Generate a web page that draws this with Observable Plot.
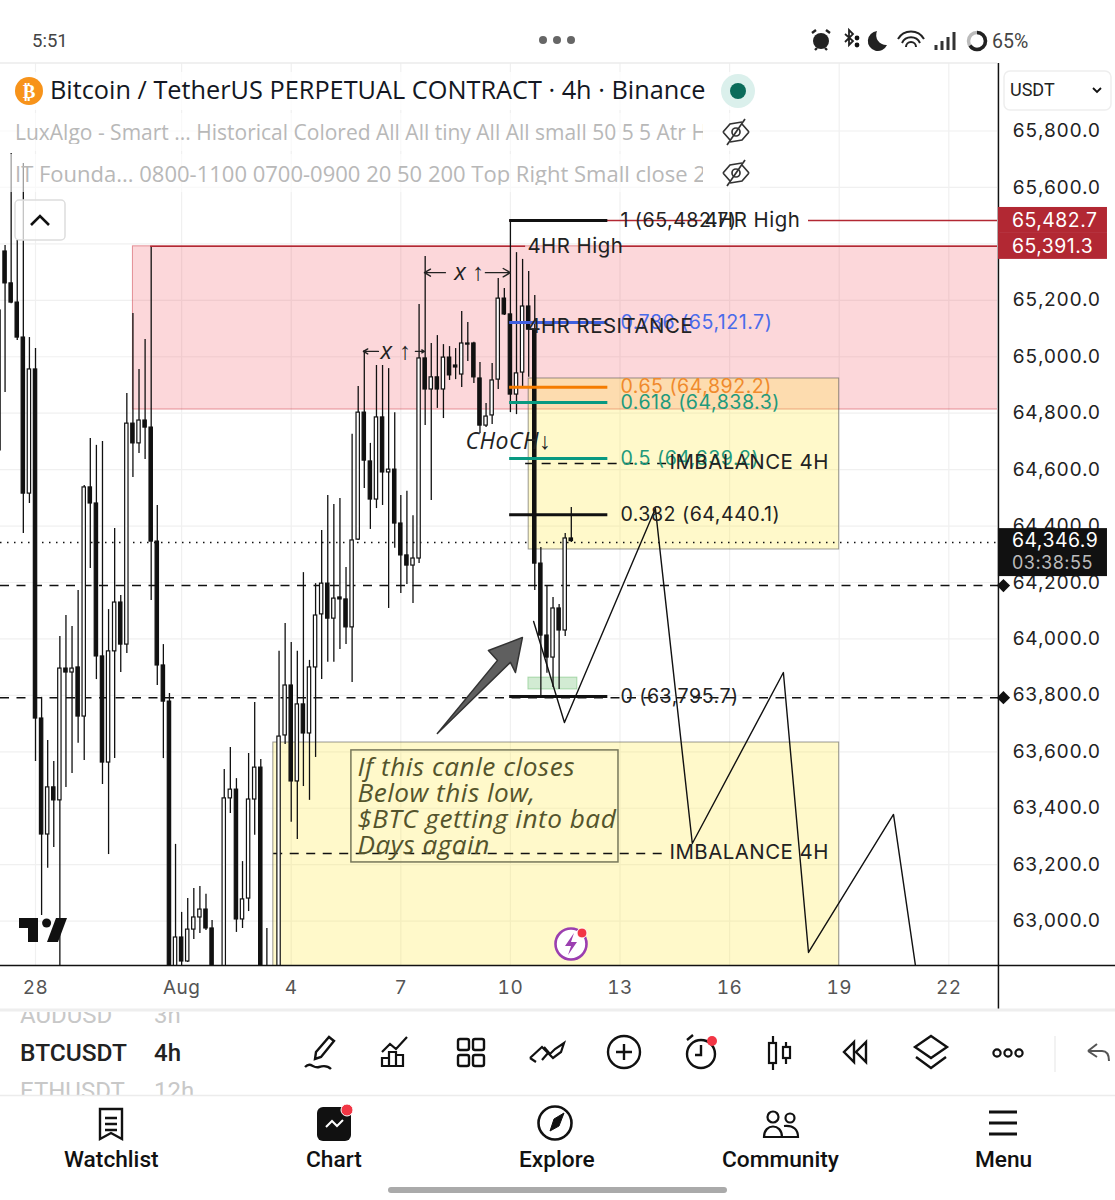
<!DOCTYPE html>
<html><head><meta charset="utf-8">
<script src="https://cdn.jsdelivr.net/npm/d3@7"></script>
<script src="https://cdn.jsdelivr.net/npm/@observablehq/plot@0.6"></script>
<style>
html,body{margin:0;background:#fff}
#page{position:relative;width:1115px;height:1200px;overflow:hidden;font-family:Inter,sans-serif;color:#111}
#chart{position:absolute;left:0;top:63px}
#chart svg{display:block}
.t{position:absolute;white-space:nowrap;line-height:1}
.ic{position:absolute;left:0;top:0;pointer-events:none}
.row{position:absolute;left:0;width:760px;height:38px;background:rgba(255,255,255,.6)}
</style></head><body>
<div id="page">
<div id="chart"></div>
<div class="row" style="top:113px"></div><div class="row" style="top:154px"></div>
<div class="row" style="top:72px;height:38px;background:rgba(255,255,255,.8)"></div>
<div class="t" style="left:32px;top:32px;font-size:18.5px;color:#444;font-family:Roboto">5:51</div>
<div class="t" style="left:992px;top:32px;font-size:19.5px;color:#444;font-family:Roboto">65%</div>
<div class="t" style="left:50px;top:77px;font-size:25.3px;color:#131722;font-family:'Open Sans'">Bitcoin / TetherUS PERPETUAL CONTRACT · 4h · Binance</div>
<div class="t" style="left:15px;top:120px;width:688px;overflow:hidden;font-size:21px;line-height:24px;color:#b8b8b8;font-family:'Open Sans'">LuxAlgo - Smart ... Historical Colored All All tiny All All small 50 5 5 Atr H</div>
<div class="t" style="left:15px;top:161px;width:688px;overflow:hidden;font-size:22px;line-height:24px;color:#b8b8b8;font-family:'Open Sans'">IT Founda... 0800-1100 0700-0900 20 50 200 Top Right Small close 2</div>
<div class="t" style="left:1010px;top:81px;font-size:18px;color:#222;font-family:Roboto">USDT</div>
<div class="t" style="left:20px;top:1041px;width:107px;overflow:hidden;font-size:24.5px;font-weight:500;color:#222;font-family:Roboto">BTCUSDT</div>
<div class="t" style="left:154px;top:1041px;font-size:24px;font-weight:500;color:#222;font-family:Roboto">4h</div>
<div class="t" style="left:20px;top:1003px;font-size:24px;color:#c8c8c8;height:24px;font-family:Roboto;clip-path:inset(9px 0 0 0)">AUDUSD</div>
<div class="t" style="left:154px;top:1003px;font-size:24px;color:#c8c8c8;height:24px;font-family:Roboto;clip-path:inset(9px 0 0 0)">3h</div>
<div class="t" style="left:20px;top:1079px;width:107px;overflow:hidden;font-size:24px;color:#c8c8c8;height:16px;font-family:Roboto">ETHUSDT</div>
<div class="t" style="left:154px;top:1079px;font-size:24px;color:#c8c8c8;height:16px;overflow:hidden;font-family:Roboto">12h</div>
<div class="t" style="left:64px;top:1149px;font-size:22.7px;font-weight:500;font-family:Roboto">Watchlist</div>
<div class="t" style="left:306px;top:1149px;font-size:22.7px;font-weight:500;font-family:Roboto">Chart</div>
<div class="t" style="left:519px;top:1149px;font-size:22.7px;font-weight:500;font-family:Roboto">Explore</div>
<div class="t" style="left:722px;top:1149px;font-size:22.7px;font-weight:500;font-family:Roboto">Community</div>
<div class="t" style="left:975px;top:1149px;font-size:22.7px;font-weight:500;font-family:Roboto">Menu</div>
<svg class="ic" width="1115" height="1200" fill="none" stroke="#111" stroke-width="2.4">
 <path d="M0 63H997M0 1095.5H1115" stroke="#ececec" stroke-width="1.5"/>
 <path d="M0 1010H1115" stroke="#eee" stroke-width="3"/>
 <path d="M1055 1036V1072" stroke="#eee" stroke-width="1.5"/>
 <rect x="388" y="1187" width="339" height="6" rx="3" fill="#aaa" stroke="none"/>
 <g fill="#666" stroke="none"><circle cx="543" cy="40" r="4"/><circle cx="557" cy="40" r="4"/><circle cx="571" cy="40" r="4"/></g>
 <circle cx="821" cy="41" r="8" fill="#222" stroke-width="0"/><path d="M812 33l4-3M830 33l-4-3M815 50l2-2M827 50l-2-2" stroke="#222"/>
 <path d="M845 34l8 7-4 4V30l4 4-8 8" stroke="#222" stroke-width="1.8"/><circle cx="857" cy="38" r="1.2" fill="#222"/><circle cx="857" cy="45" r="1.2" fill="#222"/>
 <path d="M877 31a10 10 0 1 0 10 14a10 10 0 0 1-10-14z" fill="#222" stroke="none"/>
 <path d="M898 39a15 15 0 0 1 26 0M902 43a10 10 0 0 1 18 0M906 47a5 5 0 0 1 10 0" stroke="#222" stroke-width="2"/>
 <path d="M936 50v-5M942 50v-9M948 50v-13M954 50V32" stroke="#333" stroke-width="3"/>
 <circle cx="977" cy="41" r="8.5" stroke="#bbb" stroke-width="3.5"/><path d="M977 32.5a8.5 8.5 0 0 1 0 17a8.5 8.5 0 0 1-7-4" stroke="#222" stroke-width="3.5"/>
 <circle cx="29" cy="91" r="14" fill="#f7931a" stroke="none"/>
 <text x="29" y="98" text-anchor="middle" font-size="19" font-weight="700" fill="#fff" stroke="none" font-family="Open Sans">₿</text>
 <circle cx="738" cy="91" r="17" fill="#dbf0ec" stroke="none"/><circle cx="738" cy="91" r="8" fill="#0b6b5a" stroke="none"/>
 <g stroke="#333" stroke-width="1.7"><path d="M723 132l7-8 12-2M749 132l-7 8-12 2M723 132l7 8M749 132l-7-8"/><ellipse cx="736" cy="132" rx="4" ry="4"/><path d="M727 145l18-26"/></g>
 <g stroke="#333" stroke-width="1.7"><path d="M723 173l7-8 12-2M749 173l-7 8-12 2M723 173l7 8M749 173l-7-8"/><ellipse cx="736" cy="173" rx="4" ry="4"/><path d="M727 186l18-26"/></g>
 <rect x="1004" y="71" width="107" height="39" rx="6" stroke="#eee" stroke-width="1.5" fill="none"/>
 <path d="M1093 88l4 4 4-4" stroke-width="1.8"/>
 <rect x="15" y="200" width="50" height="40" rx="4" stroke="#ddd" stroke-width="1.5" fill="rgba(255,255,255,.75)"/>
 <path d="M31 225l9-9 9 9" stroke-width="2.6"/>
 <g fill="#111" stroke="none"><path d="M19 918H38V942H28V928H19z"/><circle cx="46.6" cy="923" r="4.5"/><path d="M56 918H67L58 942H47z"/></g>
 <circle cx="571" cy="944" r="15.5" stroke="#9b3fb0" stroke-width="2.6" fill="#fff"/>
 <path d="M574 933l-9 13h6l-3 9 9-13h-6z" fill="#9b3fb0" stroke="none"/><circle cx="582" cy="933" r="5" fill="#f23645" stroke="#fff" stroke-width="1"/>
 <path d="M316 1052l13-15 5 4-13 16-6 2zM305 1067c6-6 8 2 14 0s10 0 12 2"/>
 <path d="M382 1066v-8h7v8zM389 1066v-14h7v14zM396 1066v-11h7v11zM403 1066H382M382 1052l8-8 6 5 11-12" stroke-width="2.2"/>
 <g stroke-width="2.4"><rect x="458" y="1039" width="11" height="11" rx="2"/><rect x="473" y="1039" width="11" height="11" rx="2"/><rect x="458" y="1055" width="11" height="11" rx="2"/><rect x="473" y="1055" width="11" height="11" rx="2"/></g>
 <path d="M530 1058l12-11 6 6-6 7M536 1062l-6-4M544 1047l6 7 5-5 9-6-3 9-8 6-5-5" stroke-width="2.2"/>
 <circle cx="624" cy="1052" r="16" stroke-width="2.4"/><path d="M624 1044v16M616 1052h16"/>
 <circle cx="701" cy="1054" r="14"/><path d="M701 1045v10h-6M687 1040l6-5"/><circle cx="712" cy="1041" r="5" fill="#f23645" stroke="none"/>
 <path d="M773 1036v34" stroke-width="2.2"/><rect x="769" y="1043" width="7" height="20" stroke-width="2.2" fill="#fff"/><path d="M786 1042v22" stroke-width="2.2"/><rect x="783" y="1047" width="7" height="11" stroke-width="2.2" fill="#fff"/>
 <path d="M854 1042l-10 10 10 10zM866 1042l-10 10 10 10z" stroke-width="2.4"/>
 <path d="M931 1036l16 11-16 11-16-11zM916 1057l15 11 15-11" stroke-width="2.4"/>
 <g stroke-width="2.2"><circle cx="997" cy="1053" r="3.6"/><circle cx="1008" cy="1053" r="3.6"/><circle cx="1019" cy="1053" r="3.6"/></g>
 <path d="M1088 1051l9-7M1088 1051l9 6M1088 1051h14c5 0 7 4 7 10" stroke="#555" stroke-width="2"/>
 <path d="M100 1109h22v30l-11-6-11 6zM105 1118h12M105 1124h12M105 1130h12" stroke-width="2.4"/>
 <rect x="317" y="1107" width="34" height="34" rx="6" fill="#111" stroke="none"/>
 <path d="M326 1127l6-6 5 5 6-6" stroke="#fff" stroke-width="2"/><circle cx="347" cy="1110" r="6" fill="#f23645" stroke="#fff" stroke-width="1"/>
 <circle cx="555" cy="1123" r="16.5" stroke-width="2.6"/><path d="M564 1113l-5 13-9 5 4-12z" fill="#111" stroke-width="1"/>
 <circle cx="773" cy="1117" r="5.5" stroke-width="2.2"/><circle cx="790" cy="1118" r="4.5" stroke-width="2.2"/>
 <path d="M764 1137c0-14 18-14 18 0zM784 1126c10-1 14 4 14 11h-16" stroke-width="2.2"/>
 <path d="M989 1112h28M989 1123h28M989 1134h28" stroke-width="3"/>
</svg>
</div>
<script>
// Candles, 4h apart, first one at candleStart
const candleStart = "2024-07-27T00:00Z";
const opens = [
65164,65373,65260,65192,65068,64515,64955,63718,63307,63474,
63428,63895,63881,63899,63725,64537,64480,63938,63562,63956,
64129,63980,64763,64693,64774,64749,64345,63906,63778,62772,
62942,62857,62970,63013,63041,62974,62754,62772,63435,63466,
63006,63080,63431,63544,62772,62754,62772,63658,63835,63495,
63768,63665,63899,64087,64196,64072,64147,64140,64041,64352,
64802,64629,64494,64785,64590,64600,64409,64296,64260,64285,
64994,64884,64927,64884,64997,64969,64937,65043,65047,64923,
64756,64792,64919,65206,65150,64866,64944,65178,65096,64267,
64012,63934,64108,64030,64356];
const closes = [
64668,65260,65192,65068,64515,64955,63718,63307,63474,63428,
63895,63881,63895,63725,64537,64480,63938,63562,63956,64129,
63980,64763,64693,64774,64749,64345,63906,63778,62790,62942,
62857,62970,63013,63041,62974,62772,62807,63435,63466,63006,
63077,63431,63544,62790,62807,62807,63654,63835,63495,63768,
63665,63899,64083,64196,64072,64143,64140,64041,64349,64802,
64632,64494,64785,64590,64600,64409,64296,64260,64285,64994,
64884,64927,64884,64997,64934,64962,65047,65047,64927,64756,
64788,64916,65206,65150,64866,64941,65178,65096,64267,64012,
63934,64108,64030,64356,64346.9];
const highs = [
65199,65394,65720,65412,65685,65068,65029,63793,63640,63566,
64009,64083,64044,64172,64544,64710,64686,64700,64104,64391,
64154,64870,65153,64955,65061,65387,64473,63980,63807,63272,
63031,63080,63116,63123,63095,63002,62825,63537,63615,63505,
63211,63594,63775,63573,62974,62825,63956,64055,63987,63956,
64235,63924,64196,64384,64508,64476,64498,64253,64725,64895,
65022,64693,64969,64969,64958,64802,64508,64523,64437,65185,
65355,65047,65075,65043,65036,65029,65160,65121,65051,64980,
64834,64976,65277,65242,65483,65369,65345,65302,65217,64324,
64186,64147,64122,64374,64466];
const lows = [
64661,64873,65188,65058,64374,64480,63566,63020,63187,63261,
62807,63474,63523,63630,63569,64250,63856,63484,63236,63576,
63881,63948,64572,64657,64636,64136,63835,63576,62754,62737,
62832,62853,62935,62956,62967,62737,62719,62737,63381,62960,
62974,63034,63304,62754,62737,62719,62737,63626,63350,63289,
63477,63428,63580,63856,63917,63917,63963,63980,63846,64349,
64533,64388,64462,64473,64108,64321,64161,64193,64126,64267,
64756,64491,64817,64781,64916,64919,64891,64983,64905,64728,
64749,64760,64884,65146,64802,64795,64891,64927,64172,63789,
63878,63828,63821,64009,64342];

// Axes
const priceTicks = [65800,65600,65400,65200,65000,64800,64600,64400,64200,64000,63800,63600,63400,63200,63000];
const dateTicks = ["2024-07-28","2024-08-01","2024-08-04","2024-08-07","2024-08-10","2024-08-13","2024-08-16","2024-08-19","2024-08-22"];
const dateLabels = ["28","Aug","4","7","10","13","16","19","22"];
const xDomain = ["2024-07-27T01:00Z","2024-08-23T08:00Z"];
const yDomain = [62842.8,66039.2];

// Levels
const lastPrice = 64342;
const high1 = 65482.7, high2 = 65391.3;
const fibLevels = [65482.7,65121.7,64892.2,64838.3,64639.2,64440.1,63795.7];
const fibColors = ["#111","#3f5fe0","#f57c00","#089981","#089981","#111","#111"];
const fibX = ["2024-08-09T23:30Z","2024-08-12T16:00Z"];
const labels = ["1 (65,482.7)","0.786 (65,121.7)","0.65 (64,892.2)","0.618 (64,838.3)","0.5 (64,639.2)","0.382 (64,440.1)","0 (63,795.7)",
  "4HR High","4HR High","4HR RESITANCE","IMBALANCE 4H","IMBALANCE 4H"];
const labelColors = ["#222","#4a6bea","#f08a2c","#1f9a7c","#1f9a7c","#222","#222","#222","#222","#222","#222","#222"];
const labelDates = ["2024-08-13T00:15Z","2024-08-13T00:15Z","2024-08-13T00:15Z","2024-08-13T00:15Z","2024-08-13T00:15Z","2024-08-13T00:15Z","2024-08-13T00:15Z",
  "2024-08-15T07:26Z","2024-08-10T11:10Z","2024-08-10T11:10Z","2024-08-14T08:28Z","2024-08-14T08:28Z"];
const labelPrices = [65482.7,65121.7,64892.2,64838.3,64639.2,64440.1,63795.7,65482.7,65391.3,65107,64625,63243];

// Projection zigzag and big arrow
const zigDates = ["2024-08-10T15:15Z","2024-08-11T11:30Z","2024-08-13T23:15Z","2024-08-14T23:30Z","2024-08-17T11:20Z","2024-08-18T03:50Z","2024-08-20T11:40Z","2024-08-21T04:00Z"];
const zigPrices = [64062,63704,64462,63275,63881,62889,63378,62772];
const arrowDates = ["2024-08-08T00:00Z","2024-08-09T15:30Z","2024-08-09T09:33Z","2024-08-10T07:53Z","2024-08-10T03:17Z","2024-08-10T00:00Z","2024-08-08T00:00Z"];
const arrowPrices = [63665,63924,63959,64005,63881,63917,63665];

const D = s => new Date(s);
const candles = opens.map((o,i)=>({t:d3.utcHour.offset(D(candleStart),4*i),o,c:closes[i],h:highs[i],l:lows[i]}));
const W = 66; // half body, minutes
const fibs = fibLevels.map((y,i)=>({y,color:fibColors[i]}));
const texts = labels.map((s,i)=>({s,color:labelColors[i],x:D(labelDates[i]),y:labelPrices[i],fib:i<7}));
const zig = zigDates.map((d,i)=>({x:D(d),y:zigPrices[i]}));
const arrowPoly = arrowDates.map((d,i)=>({x:D(d),y:arrowPrices[i]}));
const axisEnd = "2024-08-23T08:37Z", tagEnd = "2024-08-26T08:15Z";
const tags = [
 {y1:65437,y2:65529,fill:"#b22833",s:"65,482.7",y:65482.7},
 {y1:65345,y2:65437,fill:"#b22833",s:"65,391.3",y:65391.3}];
const hs = [
 {y:high1,x1:"2024-08-09T23:30Z",x2:"2024-08-15T06:00Z"},
 {y:high1,x1:"2024-08-18T03:50Z",x2:axisEnd},
 {y:high2,x1:"2024-07-31T03:36Z",x2:"2024-08-10T10:00Z"},
 {y:high2,x1:"2024-08-13T00:00Z",x2:axisEnd}];
const dashes = [
 {y:64189,x1:xDomain[0],x2:axisEnd},
 {y:63792,x1:xDomain[0],x2:axisEnd},
 {y:64622,x1:"2024-08-10T10:00Z",x2:"2024-08-14T07:00Z"},
 {y:63240,x1:"2024-08-03T12:30Z",x2:"2024-08-14T07:00Z"}];
const zones = [
 {x1:"2024-07-30T16:00Z",x2:axisEnd,y1:64813,y2:65391.3,fill:"#f23645",fo:.2,stroke:"#d0434f",so:.55},
 {x1:"2024-08-10T12:00Z",x2:"2024-08-19T00:00Z",y1:64317,y2:64923,fill:"#ffe93b",fo:.27,stroke:"#555",so:.6},
 {x1:"2024-08-03T12:15Z",x2:"2024-08-19T00:00Z",y1:62700,y2:63633,fill:"#ffe93b",fo:.27,stroke:"#555",so:.6},
 {x1:"2024-08-10T11:50Z",x2:"2024-08-11T20:00Z",y1:63821,y2:63863,fill:"#4caf50",fo:.25,stroke:"#4caf50",so:.4}];
const dim = {x1:"2024-08-05T15:32Z",x2:"2024-08-12T23:00Z",y1:63208,y2:63605};
const arrows = [
 {x1:"2024-08-08T05:17Z",x2:"2024-08-07T15:30Z",y:65298},{x1:"2024-08-09T07:34Z",x2:"2024-08-10T00:00Z",y:65298},
 {x1:"2024-08-06T09:17Z",x2:"2024-08-05T23:25Z",y:65019},{x1:"2024-08-07T09:36Z",x2:"2024-08-07T15:30Z",y:65019}];
const ital = [
 {s:"x",x:"2024-08-08T15:08Z",y:65298},{s:"↑",x:"2024-08-09T02:59Z",y:65298},
 {s:"x",x:"2024-08-06T14:32Z",y:65019},{s:"↑",x:"2024-08-07T03:02Z",y:65019}];

const xv = f => d => D(f(d));
const plot = Plot.plot({
  width:1115, height:947, marginLeft:0, marginRight:118, marginTop:0, marginBottom:45,
  style:{fontFamily:"Inter, sans-serif",fontSize:"19px",background:"transparent",color:"#222",letterSpacing:".5px"},
  x:{type:"utc",domain:xDomain.map(D)},
  y:{domain:yDomain},
  marks:[
    Plot.ruleY(priceTicks,{stroke:"#f0f0f0",strokeWidth:1.2}),
    Plot.ruleX(dateTicks.map(D),{stroke:"#f0f0f0",strokeWidth:1.2}),
    Plot.rect(zones,{x1:xv(d=>d.x1),x2:xv(d=>d.x2),y1:"y1",y2:"y2",fill:"fill",fillOpacity:"fo",stroke:"stroke",strokeOpacity:"so",clip:true}),
    Plot.ruleY(hs,{y:"y",x1:xv(d=>d.x1),x2:xv(d=>d.x2),stroke:"#b22833",strokeWidth:1.5,clip:true}),
    Plot.ruleY([lastPrice],{x1:D(xDomain[0]),x2:D(axisEnd),stroke:"#111",strokeDasharray:"1.5 5.5",strokeWidth:1.5}),
    Plot.ruleY(dashes,{y:"y",x1:xv(d=>d.x1),x2:xv(d=>d.x2),stroke:"#111",strokeDasharray:"9 7.5",strokeWidth:1.5}),
    Plot.ruleX(candles,{x:"t",y1:"l",y2:"h",stroke:"#111",strokeWidth:1.3,clip:true}),
    Plot.rect(candles,{x1:d=>d3.utcMinute.offset(d.t,-W),x2:d=>d3.utcMinute.offset(d.t,W),y1:"o",y2:"c",
      fill:d=>d.c>=d.o?"#fff":"#111",stroke:"#111",strokeWidth:1.2,clip:true}),
    Plot.ruleY(fibs,{y:"y",x1:D(fibX[0]),x2:D(fibX[1]),stroke:"color",strokeWidth:3}),
    Plot.line(arrowPoly,{x:"x",y:"y",fill:"#5f5f5f",stroke:"#333",strokeWidth:1.5,curve:"linear"}),
    Plot.line(zig,{x:"x",y:"y",stroke:"#111",strokeWidth:1.4,clip:true}),
    Plot.rect([dim],{x1:xv(d=>d.x1),x2:xv(d=>d.x2),y1:"y1",y2:"y2",fill:"none",stroke:"#77775a",strokeWidth:1.5}),
    Plot.text(["If this canle closes\nBelow this low,\n$BTC getting into bad\nDays again"],{x:D("2024-08-05T19:30Z"),y:63406,textAnchor:"start",
      fontSize:26.2,fontStyle:"italic",fontFamily:"Open Sans",fill:"#54542c",lineHeight:1,letterSpacing:"0px"}),
    Plot.text(["CHoCH↓"],{x:D("2024-08-08T18:26Z"),y:64700,textAnchor:"start",fontSize:23,fontStyle:"italic",fontFamily:"Open Sans",fill:"#222"}),
    Plot.text(texts.filter(d=>d.fib),{x:"x",y:"y",text:"s",fill:"color",textAnchor:"start",fontSize:19.6}),
    Plot.text(texts.filter(d=>!d.fib),{x:"x",y:"y",text:"s",fill:"color",textAnchor:"start",fontSize:20.4}),
    Plot.arrow(arrows,{x1:xv(d=>d.x1),x2:xv(d=>d.x2),y1:"y",y2:"y",stroke:"#222",strokeWidth:1.4,headLength:24,bend:0}),
    Plot.text(ital,{x:xv(d=>d.x),y:"y",text:"s",fontSize:24,fontStyle:"italic",fontFamily:"Open Sans",fill:"#222"}),
    Plot.axisY({anchor:"right",ticks:priceTicks,tickSize:0,tickPadding:15,tickFormat:d3.format(",.1f"),label:null,fill:"#222",fontSize:19}),
    Plot.axisX({ticks:dateTicks.map(D),tickSize:0,tickPadding:15,tickFormat:d=>dateLabels[dateTicks.indexOf(d3.utcFormat("%Y-%m-%d")(d))],label:null,fill:"#555",fontSize:19}),
    Plot.ruleX([D(axisEnd)],{y1:yDomain[1],y2:62680,stroke:"#111",strokeWidth:1.5}),
    Plot.ruleY([yDomain[0]],{x1:D(xDomain[0]),x2:D("2024-08-27T00:00Z"),stroke:"#111",strokeWidth:1.5}),
    Plot.dot([64189,63792],{x:D("2024-08-23T11:54Z"),y:d=>d,symbol:"diamond2",r:6,fill:"#111",stroke:"none"}),
    Plot.rect(tags,{x1:D(axisEnd),x2:D(tagEnd),y1:"y1",y2:"y2",fill:"fill"}),
    Plot.text(tags,{x:D("2024-08-23T17:30Z"),y:"y",text:"s",fill:"#fff",textAnchor:"start",fontSize:19.4}),
    Plot.rect([0],{x1:D(axisEnd),x2:D(tagEnd),y1:64221,y2:64391,fill:"#111"}),
    Plot.text(["64,346.9"],{x:D("2024-08-23T17:30Z"),y:64349,fill:"#fff",textAnchor:"start",fontSize:19.4}),
    Plot.text(["03:38:55"],{x:D("2024-08-23T17:30Z"),y:64268,fill:"#bbb",textAnchor:"start",fontSize:18})
  ]
});
document.getElementById("chart").appendChild(plot);
</script>
</body></html>
